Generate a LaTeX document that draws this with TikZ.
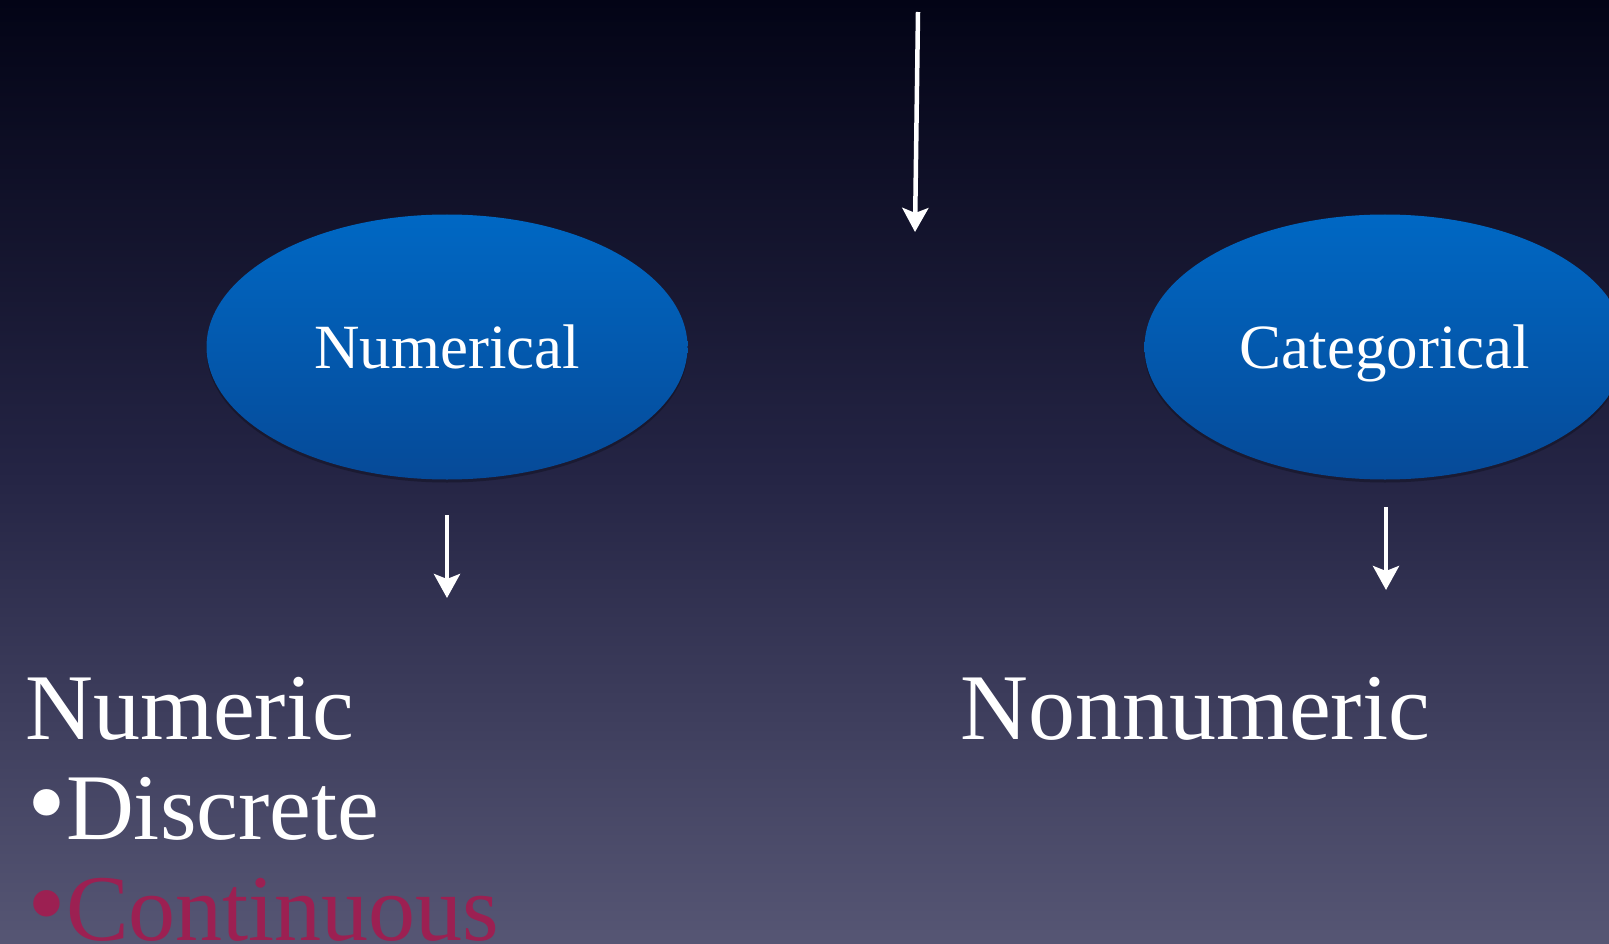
\documentclass[tikz,border=0pt]{standalone}
\usepackage{fontspec}
\setmainfont{Liberation Serif}
\usetikzlibrary{shapes.geometric,arrows.meta,shadows}
\definecolor{bgtop}{RGB}{3,4,22}
\definecolor{bgmid}{RGB}{36,36,68}
\definecolor{bgbot}{RGB}{86,86,116}
\definecolor{elltop}{RGB}{0,104,196}
\definecolor{ellbot}{RGB}{6,74,152}
\definecolor{contcol}{RGB}{156,32,82}
\newcommand{\bigbul}{\scalebox{1.18}{•}}
\tikzset{
  oval/.style={ellipse, minimum width=481pt, minimum height=265pt, inner sep=0pt,
    text height=42pt, text depth=0pt,
    top color=elltop, bottom color=ellbot, draw=none,
    drop shadow={shadow xshift=0pt, shadow yshift=-3pt, opacity=0.25, fill=black},
    text=white, font=\fontsize{63}{70}\selectfont},
  arr/.style={draw=white, line width=4.5pt, -{Stealth[length=24pt,width=26pt,inset=5pt]}},
  big/.style={inner sep=0pt, anchor=base west, text=white, font=\fontsize{94}{100}\selectfont}
}
\begin{document}
\begin{tikzpicture}[x=1pt,y=-1pt]
\clip (0,0) rectangle (1609,944);
\shade[top color=bgtop, bottom color=bgmid] (0,0) rectangle (1609,470);
\shade[top color=bgmid, bottom color=bgbot] (0,470) rectangle (1609,944);
\node[oval] (num) at (447,347) {Numerical};
\node[oval] (cat) at (1385,347) {Categorical};
\coordinate (t0) at (918,12);
\coordinate (t1) at (915,232);
\coordinate (n0) at (447,515);
\coordinate (n1) at (447,598);
\coordinate (c0) at (1386,507);
\coordinate (c1) at (1386,590);
\draw[arr] (t0) -- (t1);
\draw[arr] (n0) -- (n1);
\draw[arr] (c0) -- (c1);
\node[big] (numeric) at (25,739) {Numeric};
\node[big] (discrete) at (27,839) {\bigbul Discrete};
\node[big, text=contcol] (cont) at (27,940) {\bigbul Continuous};
\node[big] (nonnum) at (960,739) {Nonnumeric};
\end{tikzpicture}
\end{document}
